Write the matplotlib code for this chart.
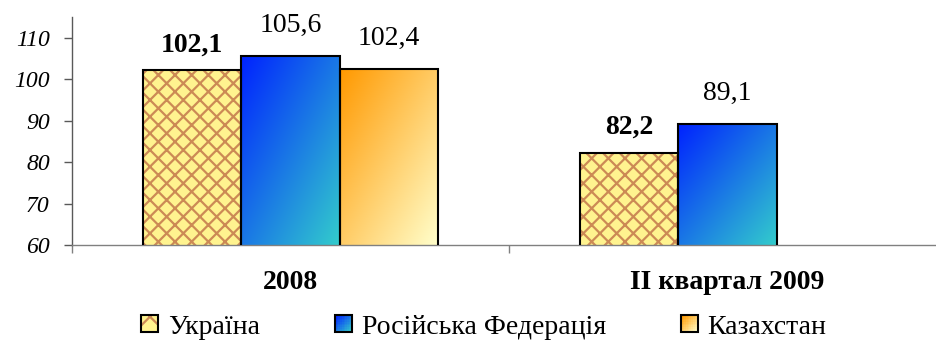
import numpy as np
import matplotlib
matplotlib.use("Agg")
import matplotlib.pyplot as plt
from matplotlib.patches import Rectangle
from matplotlib.legend_handler import HandlerBase
from matplotlib.colors import to_rgb

# ---- data -------------------------------------------------------------
periods = ["2008", "II квартал 2009"]
countries = ["Україна", "Російська Федерація", "Казахстан"]
ukraine = [102.1, 82.2]
russia = [105.6, 89.1]
kazakhstan = [102.4, np.nan]
yticks = [60, 70, 80, 90, 100, 110]

# ---- styles -----------------------------------------------------------
HATCH_FACE = "#FFF38F"
HATCH_LINE = "#CC8A55"
RUS_COLORS = ("#0022FF", "#33CCCC")
KAZ_COLORS = ("#FF9900", "#FFFFCC")

plt.rcParams["font.family"] = ["Liberation Serif", "DejaVu Serif"]
plt.rcParams["hatch.linewidth"] = 1.6


def fmt(v):
    return f"{v:.1f}".replace(".", ",")


def gradient_image(c0, c1, n=96):
    u = np.linspace(0, 1, n)
    U, V = np.meshgrid(u, u)
    t = (U + V) / 2
    a, b = np.array(to_rgb(c0)), np.array(to_rgb(c1))
    return a + t[..., None] * (b - a)


fig = plt.figure(figsize=(9.37, 3.46), dpi=100)
ax = fig.add_axes([72 / 937, 101 / 346, 865 / 937, 228 / 346])
ax.set_ylim(60, 115)
ax.set_xlim(-0.5, 1.479)

x = np.arange(len(periods))
width = 0.2254
offsets = [-width, 0.0, width]
ymin = ax.get_ylim()[0]

# Ukraine: hatched yellow bars
ax.bar(x + offsets[0], ukraine, width, color=HATCH_FACE, hatch="xx",
       edgecolor=HATCH_LINE, linewidth=0, zorder=2)
ax.bar(x + offsets[0], ukraine, width, facecolor="none",
       edgecolor="black", linewidth=1.5, zorder=3)

# Russia and Kazakhstan: diagonal gradient fills
for vals, off, cols in [(russia, offsets[1], RUS_COLORS),
                        (kazakhstan, offsets[2], KAZ_COLORS)]:
    bars = ax.bar(x + off, vals, width, facecolor="none",
                  edgecolor="black", linewidth=1.5, zorder=3)
    for rect, v in zip(bars, vals):
        if np.isnan(v):
            continue
        x0 = rect.get_x()
        im = ax.imshow(gradient_image(*cols), origin="upper", aspect="auto",
                       extent=(x0, x0 + rect.get_width(), ymin, v),
                       interpolation="bilinear", zorder=2)
        im.set_clip_path(rect)

# value labels
for vals, off, bold in [(ukraine, offsets[0], True),
                        (russia, offsets[1], False),
                        (kazakhstan, offsets[2], False)]:
    for xi, v in zip(x, vals):
        if np.isnan(v):
            continue
        ax.annotate(fmt(v), (xi + off, v), xytext=(0, 13.7 if bold else 17.3),
                    textcoords="offset points", ha="center", va="baseline",
                    fontsize=20, fontweight="bold" if bold else "normal")

ax.set_xlim(-0.5, 1.479)
ax.set_ylim(60, 115)

# axes styling
for s in ("top", "right"):
    ax.spines[s].set_visible(False)
ax.spines["left"].set_color("#595959")
ax.spines["bottom"].set_color("#808080")
ax.spines["left"].set_linewidth(1)
ax.spines["bottom"].set_linewidth(1)

ax.set_yticks(yticks, [str(t) for t in yticks], fontsize=17, fontstyle="italic")
ax.tick_params(axis="y", direction="out", length=6, width=1,
               color="#595959", pad=10)

ax.set_xticks(x, periods, fontsize=20, fontweight="bold")
ax.tick_params(axis="x", which="major", length=0, pad=18)
ax.set_xticks([-0.5, 0.5], minor=True)
ax.tick_params(axis="x", which="minor", direction="out", length=6,
               width=1, color="#808080")


# ---- legend swatches ---------------------------------------------------
class SwatchHandler(HandlerBase):
    def __init__(self, colors=None, hatch=False, steps=10):
        super().__init__()
        self.colors = colors
        self.hatch = hatch
        self.steps = steps

    def create_artists(self, legend, orig_handle, xdescent, ydescent,
                       width, height, fontsize, trans):
        size = min(width, height)
        x0 = -xdescent + (width - size) / 2
        y0 = -ydescent + (height - size) / 2
        arts = []
        if self.hatch:
            arts.append(Rectangle((x0, y0), size, size, facecolor=HATCH_FACE,
                                  edgecolor=HATCH_LINE, hatch="x",
                                  linewidth=0, transform=trans))
        else:
            n = self.steps
            c = size / n
            a, b = np.array(to_rgb(self.colors[0])), np.array(to_rgb(self.colors[1]))
            for i in range(n):
                for j in range(n):
                    t = (i + (n - 1 - j)) / (2 * (n - 1))
                    arts.append(Rectangle((x0 + i * c, y0 + j * c), c * 1.05, c * 1.05,
                                          facecolor=a + t * (b - a), linewidth=0,
                                          antialiased=False, transform=trans))
        arts.append(Rectangle((x0, y0), size, size, fill=False,
                              edgecolor="black", linewidth=1.5, transform=trans))
        return arts


proxies = [Rectangle((0, 0), 1, 1) for _ in countries]
handlers = {
    proxies[0]: SwatchHandler(hatch=True),
    proxies[1]: SwatchHandler(colors=RUS_COLORS),
    proxies[2]: SwatchHandler(colors=KAZ_COLORS),
}
fig.legend(proxies, countries, handler_map=handlers, loc="center",
           bbox_to_anchor=(484 / 937, 19 / 346), ncol=3, frameon=False,
           fontsize=20, handlelength=0.61, handleheight=0.61,
           handletextpad=0.35, columnspacing=2.7, borderpad=0, borderaxespad=0)

fig.savefig("out.png", dpi=100)
